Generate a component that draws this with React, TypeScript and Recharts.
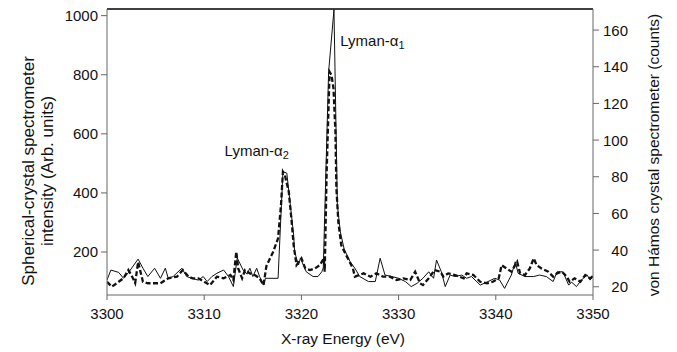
import { LineChart, Line, XAxis, YAxis, ReferenceDot } from "recharts";

const FONT = "'Liberation Sans', Arial, Helvetica, sans-serif";

const ENERGY_TICKS = [3300, 3310, 3320, 3330, 3340, 3350];
const LEFT_TICKS = [200, 400, 600, 800, 1000];
const RIGHT_TICKS = [20, 40, 60, 80, 100, 120, 140, 160];

// spherical-crystal spectrometer, thin solid line, left axis (arb. units)
const sphericalEnergy = [
  3300.0, 3300.4, 3301.2, 3301.7, 3302.2, 3303.2, 3303.7, 3304.2, 3304.9, 3305.5,
  3306.0, 3306.3, 3306.8, 3307.7, 3308.2, 3308.7, 3309.4, 3309.9, 3310.3, 3310.8,
  3311.3, 3312.0, 3312.5, 3313.0, 3313.4, 3314.0, 3314.4, 3314.7, 3315.0, 3315.4,
  3315.7, 3316.1, 3316.3, 3317.6, 3318.1, 3318.5, 3319.2, 3319.3, 3319.7, 3319.9,
  3320.2, 3320.5, 3321.2, 3321.7, 3322.1, 3322.25, 3322.8, 3323.35, 3323.7, 3324.0,
  3324.4, 3325.0, 3325.5, 3326.0, 3326.9, 3327.6, 3328.1, 3328.6, 3329.3, 3330.0,
  3330.7, 3331.3, 3331.9, 3332.5, 3333.1, 3333.6, 3333.9, 3334.4, 3334.8, 3335.3,
  3335.8, 3336.5, 3337.0, 3337.5, 3338.4, 3339.2, 3339.9, 3340.4, 3340.9, 3341.6,
  3342.0, 3342.3, 3343.0, 3343.9, 3344.5, 3345.2, 3345.9, 3346.3, 3346.9, 3347.5,
  3347.8, 3348.3, 3348.8, 3349.4, 3349.7, 3350.0,
];
const sphericalIntensity = [
  105, 139, 131, 111, 130, 176, 145, 117, 145, 111,
  145, 111, 117, 145, 117, 111, 105, 117, 100, 117,
  128, 139, 117, 83, 180, 139, 125, 145, 117, 145,
  117, 88, 111, 111, 472, 467, 258, 201, 156, 179,
  156, 133, 117, 117, 133, 146, 810, 1020, 359, 269,
  210, 168, 145, 117, 100, 100, 179, 122, 117, 111,
  100, 83, 94, 111, 133, 111, 173, 133, 83, 122,
  117, 122, 111, 117, 88, 100, 111, 105, 77, 122,
  167, 128, 117, 117, 122, 117, 100, 133, 133, 88,
  98, 83, 105, 122, 105, 117,
];

// von Hámos spectrometer, thick dashed line, right axis (counts)
const vonHamosEnergy = [
  3300.0, 3300.5, 3301.2, 3301.7, 3302.2, 3302.5, 3302.9, 3303.2, 3303.7, 3304.2,
  3305.5, 3306.3, 3307.2, 3307.8, 3308.4, 3308.8, 3309.4, 3310.0, 3310.6, 3311.3,
  3312.0, 3312.7, 3313.0, 3313.3, 3313.5, 3313.9, 3314.2, 3314.7, 3315.2, 3315.7,
  3316.1, 3316.4, 3317.1, 3317.6, 3317.9, 3318.1, 3318.3, 3318.7, 3319.0, 3319.2,
  3319.5, 3320.0, 3320.4, 3320.9, 3321.4, 3321.9, 3322.3, 3322.4, 3322.6, 3322.8,
  3322.9, 3323.1, 3323.3, 3323.5, 3323.6, 3323.8, 3324.1, 3324.6, 3325.3, 3325.5,
  3326.4, 3327.1, 3327.7, 3328.4, 3329.1, 3329.8, 3330.5, 3331.2, 3331.7, 3332.2,
  3332.5, 3333.1, 3333.7, 3334.3, 3334.6, 3335.1, 3335.8, 3336.7, 3337.0, 3337.7,
  3338.4, 3339.1, 3339.7, 3340.3, 3340.6, 3341.1, 3341.6, 3342.2, 3342.5, 3343.0,
  3343.5, 3343.9, 3344.2, 3344.7, 3345.4, 3345.9, 3346.3, 3346.8, 3347.3, 3347.6,
  3348.1, 3348.7, 3349.2, 3349.7, 3350.0,
];
const vonHamosCounts = [
  22.7, 20.0, 22.7, 24.7, 29.1, 26.4, 22.0, 33.5, 22.7, 21.9,
  21.9, 24.6, 25.5, 29.1, 25.5, 24.6, 24.6, 22.7, 20.9, 25.5,
  24.6, 26.4, 23.7, 39.1, 30.0, 24.6, 29.1, 27.3, 26.4, 24.6,
  20.9, 31.3, 39.1, 46.4, 64.5, 82.7, 80.9, 71.8, 55.4, 42.7,
  31.8, 35.5, 30.0, 29.1, 30.0, 31.8, 35.5, 28.2, 82.7, 119.1,
  137.2, 135.4, 128.2, 104.5, 73.7, 55.4, 42.7, 37.3, 30.0, 25.5,
  27.3, 25.5, 27.3, 25.5, 25.5, 23.7, 24.6, 23.7, 28.2, 21.9,
  20.9, 24.6, 29.1, 28.2, 25.5, 27.3, 26.4, 24.6, 27.3, 26.4,
  22.7, 21.9, 22.7, 24.6, 31.8, 30.0, 28.2, 33.6, 27.3, 26.4,
  30.0, 35.5, 31.8, 30.0, 28.2, 25.5, 27.3, 28.2, 25.5, 22.7,
  24.6, 22.7, 26.4, 24.6, 25.8,
];

const PEAK_LABELS = [
  { name: "Lyman-α", sub: "2", energy: 3312.1, intensity: 545 },
  { name: "Lyman-α", sub: "1", energy: 3324.0, intensity: 918 },
];

const sphericalData = sphericalEnergy.map((e, i) => ({ energy: e, value: sphericalIntensity[i] }));
const vonHamosData = vonHamosEnergy.map((e, i) => ({ energy: e, value: vonHamosCounts[i] }));

const tickStyle = { fontSize: 15, fontFamily: FONT, fill: "#111" };

function RightTick({ x, y, payload }: any) {
  return (
    <text x={x + 27} y={y} textAnchor="end" dominantBaseline="central" {...tickStyle}>
      {payload.value}
    </text>
  );
}

function LeftTitle() {
  return (
    <g fontFamily={FONT} fontSize={17} fill="#111">
      <text x={28} y={171} transform="rotate(-90, 28, 171)" textAnchor="middle" dominantBaseline="central">
        Spherical-crystal spectrometer
      </text>
      <text x={47} y={171} transform="rotate(-90, 47, 171)" textAnchor="middle" dominantBaseline="central">
        intensity (Arb. units)
      </text>
    </g>
  );
}

function RightTitle() {
  return (
    <text
      x={653}
      y={155}
      transform="rotate(-90, 653, 155)"
      textAnchor="middle"
      dominantBaseline="central"
      fontFamily={FONT}
      fontSize={15.5}
      fill="#111"
    >
      von Hámos crystal spectrometer (counts)
    </text>
  );
}

function BottomTitle() {
  return (
    <text x={343} y={338} textAnchor="middle" dominantBaseline="central" fontFamily={FONT} fontSize={15.5} fill="#111">
      X-ray Energy (eV)
    </text>
  );
}

function PeakLabel({ viewBox, name, sub }: any) {
  const x = viewBox?.x ?? 0;
  const y = viewBox?.y ?? 0;
  return (
    <text x={x} y={y} dominantBaseline="central" fontFamily={FONT} fontSize={15} fill="#111">
      <tspan>{name}</tspan>
      <tspan fontSize={11} dy={5}>
        {sub}
      </tspan>
    </text>
  );
}

export default function App() {
  return (
    <div style={{ position: "absolute", left: 0, top: 0, background: "#fff" }}>
      <LineChart width={677} height={352} margin={{ top: 0, right: 0, bottom: 0, left: 0 }}>
        <XAxis
          xAxisId="bottom"
          dataKey="energy"
          type="number"
          domain={[3300, 3350]}
          ticks={ENERGY_TICKS}
          allowDataOverflow
          height={57}
          tickSize={5}
          tickMargin={8}
          tick={tickStyle}
          axisLine={{ stroke: "#666", strokeWidth: 1 }}
          tickLine={{ stroke: "#666" }}
          label={<BottomTitle />}
        />
        <XAxis
          xAxisId="top"
          orientation="top"
          dataKey="energy"
          type="number"
          domain={[3300, 3350]}
          ticks={ENERGY_TICKS}
          height={9}
          tickSize={6}
          tick={() => <g />}
          axisLine={{ stroke: "#000", strokeWidth: 1.5 }}
          tickLine={{ stroke: "#444" }}
        />
        <YAxis
          yAxisId="left"
          type="number"
          domain={[54.5, 1022.5]}
          ticks={LEFT_TICKS}
          allowDataOverflow
          width={107}
          tickSize={6}
          tickMargin={3}
          tick={tickStyle}
          axisLine={{ stroke: "#666" }}
          tickLine={{ stroke: "#666" }}
          label={<LeftTitle />}
        />
        <YAxis
          yAxisId="right"
          orientation="right"
          type="number"
          domain={[15.5, 171.5]}
          ticks={RIGHT_TICKS}
          allowDataOverflow
          width={84}
          tickSize={6}
          tickMargin={2}
          tick={<RightTick />}
          axisLine={{ stroke: "#666" }}
          tickLine={{ stroke: "#666" }}
          label={<RightTitle />}
        />
        <Line
          xAxisId="bottom"
          yAxisId="right"
          data={vonHamosData}
          dataKey="value"
          type="linear"
          stroke="#111"
          strokeWidth={2.3}
          strokeDasharray="5 2.5"
          dot={false}
          isAnimationActive={false}
        />
        <Line
          xAxisId="bottom"
          yAxisId="left"
          data={sphericalData}
          dataKey="value"
          type="linear"
          stroke="#111"
          strokeWidth={1}
          dot={false}
          isAnimationActive={false}
        />
        {PEAK_LABELS.map((p) => (
          <ReferenceDot
            key={p.sub}
            xAxisId="bottom"
            yAxisId="left"
            x={p.energy}
            y={p.intensity}
            r={0}
            fill="none"
            stroke="none"
            ifOverflow="visible"
            label={<PeakLabel name={p.name} sub={p.sub} />}
          />
        ))}
      </LineChart>
    </div>
  );
}
